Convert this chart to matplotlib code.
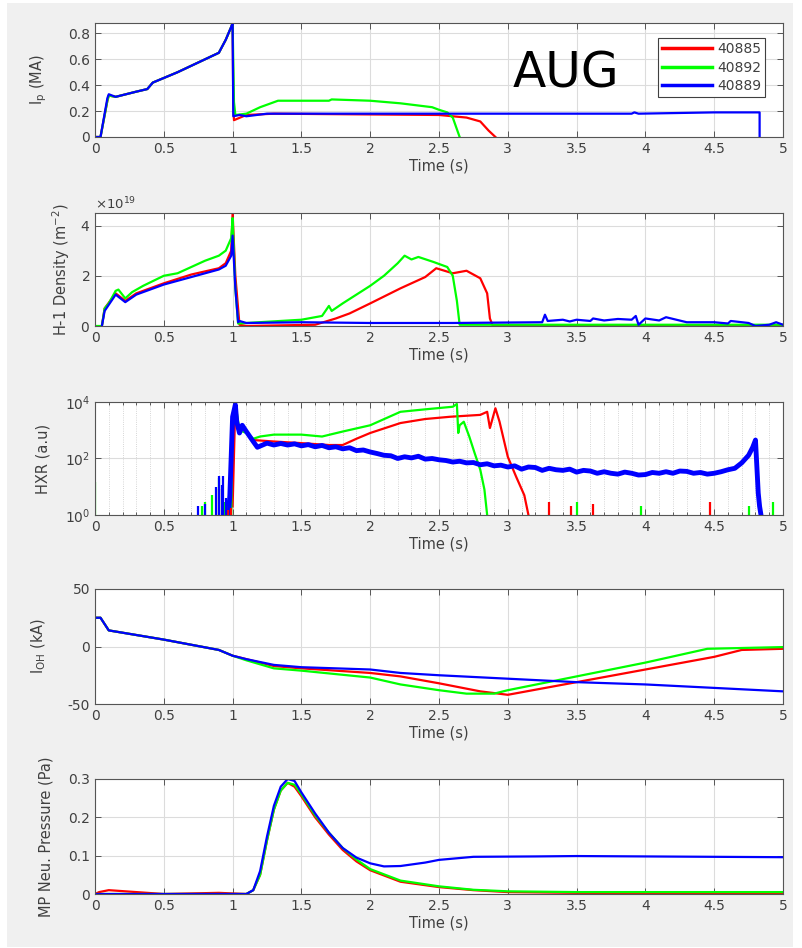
import numpy as np
import matplotlib
matplotlib.use('Agg')
import matplotlib.pyplot as plt
from matplotlib.ticker import FuncFormatter, ScalarFormatter, FixedLocator, LogLocator, NullFormatter
from matplotlib.patches import Rectangle

# shot numbers
shots = ['40885', '40892', '40889']
colors = ['#ff0000', '#00ff00', '#0000ff']

# ---- Ip (MA)
ip_t_40885 = [0, 0.04, 0.09, 0.1, 0.15, 0.3, 0.38, 0.42, 0.6, 0.9, 0.95, 0.99, 1.0, 1.005, 1.01, 1.1, 1.3,
              2.5, 2.7, 2.8, 2.86, 2.91]
ip_v_40885 = [0, 0, 0.28, 0.32, 0.31, 0.35, 0.37, 0.42, 0.5, 0.65, 0.75, 0.85, 0.88, 0.25, 0.13, 0.17, 0.18,
              0.17, 0.15, 0.12, 0.05, 0]
ip_t_40892 = [0, 0.04, 0.09, 0.1, 0.15, 0.3, 0.38, 0.42, 0.6, 0.9, 0.95, 0.99, 1.0, 1.01, 1.02, 1.1, 1.2, 1.33,
              1.7, 1.72, 2.0, 2.22, 2.45, 2.5, 2.56, 2.6, 2.63, 2.65]
ip_v_40892 = [0, 0, 0.28, 0.32, 0.31, 0.35, 0.37, 0.42, 0.5, 0.65, 0.75, 0.85, 0.88, 0.27, 0.17, 0.18, 0.23, 0.28,
              0.28, 0.29, 0.28, 0.26, 0.23, 0.21, 0.19, 0.15, 0.06, 0]
ip_t_40889 = [0, 0.04, 0.09, 0.1, 0.15, 0.3, 0.38, 0.42, 0.6, 0.9, 0.95, 0.99, 1.0, 1.005, 1.05, 1.1, 1.25,
              2.5, 3.9, 3.92, 3.95, 4.5, 4.83, 4.83]
ip_v_40889 = [0, 0, 0.3, 0.33, 0.31, 0.35, 0.37, 0.42, 0.5, 0.65, 0.75, 0.85, 0.88, 0.16, 0.17, 0.16, 0.18,
              0.18, 0.18, 0.19, 0.18, 0.19, 0.19, 0]

# ---- H-1 density (x1e19 m^-2)
ne_t_40885 = [0.05, 0.07, 0.15, 0.22, 0.3, 0.5, 0.7, 0.9, 0.95, 0.99, 1.0, 1.02, 1.05, 1.1, 1.6, 1.75, 1.85,
              2.0, 2.22, 2.4, 2.48, 2.6, 2.7, 2.8, 2.85, 2.87, 2.89, 5.0]
ne_v_40885 = [0, 0.7, 1.3, 1.0, 1.3, 1.7, 2.05, 2.3, 2.5, 3.0, 4.5, 2.0, 0.05, 0, 0.05, 0.3, 0.5,
              0.9, 1.5, 1.95, 2.3, 2.1, 2.2, 1.9, 1.3, 0.3, 0.02, 0]
ne_t_40892 = [0, 0.05, 0.07, 0.1, 0.15, 0.17, 0.22, 0.27, 0.35, 0.5, 0.6, 0.8, 0.9, 0.95, 0.99, 1.0, 1.02, 1.04,
              1.5, 1.65, 1.7, 1.72, 1.8, 2.0, 2.1, 2.2, 2.25, 2.3, 2.35, 2.46, 2.56, 2.6, 2.63, 2.65, 5.0]
ne_v_40892 = [0, 0, 0.7, 0.9, 1.4, 1.45, 1.1, 1.35, 1.6, 2.0, 2.1, 2.6, 2.8, 3.0, 3.5, 4.3, 1.5, 0.1,
              0.25, 0.4, 0.8, 0.6, 0.9, 1.6, 2.0, 2.5, 2.8, 2.65, 2.75, 2.55, 2.35, 2.0, 1.0, 0.05, 0.05]
ne_t_40889 = [0.05, 0.07, 0.15, 0.22, 0.3, 0.5, 0.7, 0.9, 0.95, 0.99, 1.0, 1.02, 1.04, 1.05, 1.1, 1.5, 2.0,
              2.6, 3.25, 3.27, 3.29, 3.4, 3.45, 3.5, 3.6, 3.62, 3.7, 3.8, 3.9, 3.93, 3.95, 4.0, 4.1, 4.15, 4.3,
              4.5, 4.6, 4.62, 4.75, 4.8, 4.9, 4.95, 5.0]
ne_v_40889 = [0, 0.6, 1.25, 0.95, 1.25, 1.65, 1.95, 2.25, 2.4, 2.8, 3.6, 1.5, 0.15, 0.2, 0.12, 0.15, 0.12,
              0.12, 0.15, 0.45, 0.2, 0.25, 0.18, 0.25, 0.2, 0.3, 0.22, 0.28, 0.25, 0.4, 0.05, 0.3, 0.22, 0.35, 0.15,
              0.15, 0.1, 0.2, 0.12, 0.0, 0.05, 0.15, 0.05]

# ---- HXR (a.u.), log scale
hxr_t_40885 = [1.0, 1.02, 1.04, 1.07, 1.1, 1.15, 1.3, 1.5, 1.7, 1.8, 1.9, 2.0, 2.22, 2.4, 2.58, 2.8, 2.85,
               2.87, 2.91, 2.94, 3.0, 3.06, 3.12, 3.15]
hxr_v_40885 = [2, 9000, 1000, 1500, 800, 450, 400, 350, 300, 300, 500, 800, 1800, 2500, 3000, 3500, 4500,
               1200, 6000, 2000, 115, 23, 5, 1]
hxr_t_40892 = [0.99, 1.0, 1.02, 1.05, 1.1, 1.15, 1.2, 1.3, 1.5, 1.65, 1.8, 2.0, 2.22, 2.4, 2.6, 2.63,
               2.64, 2.65, 2.68, 2.72, 2.76, 2.8, 2.83, 2.85]
hxr_v_40892 = [1, 3000, 9000, 1000, 800, 500, 600, 700, 700, 600, 900, 1500, 4500, 5500, 6800, 8500,
               800, 1500, 2000, 600, 150, 40, 8, 1]
hxr_t_40889 = [0.97, 0.98, 1.0, 1.02, 1.03, 1.05, 1.07, 1.1, 1.15, 1.18, 1.25, 1.3, 1.35, 1.4, 1.45, 1.5, 1.55,
               1.6, 1.65, 1.7, 1.75, 1.8, 1.85, 1.9, 1.95, 2.0, 2.05, 2.1, 2.15, 2.2, 2.25, 2.3, 2.35, 2.4,
               2.45, 2.5, 2.55, 2.6, 2.65, 2.7, 2.75, 2.8, 2.85, 2.9, 2.95, 3.0, 3.05, 3.1, 3.15, 3.2, 3.25,
               3.3, 3.35, 3.4, 3.45, 3.5, 3.55, 3.6, 3.65, 3.7, 3.75, 3.8, 3.85, 3.9, 3.95, 4.0, 4.05, 4.1,
               4.15, 4.2, 4.25, 4.3, 4.35, 4.4, 4.45, 4.5, 4.55, 4.6, 4.65, 4.7, 4.75, 4.78, 4.8, 4.82,
               4.83, 4.84]
hxr_v_40889 = [1, 5, 3000, 8000, 2000, 800, 1500, 900, 400, 250, 350, 300, 340, 300, 330, 280, 310,
               260, 290, 240, 260, 220, 240, 190, 200, 170, 150, 130, 125, 100, 115, 105, 120, 95,
               100, 90, 85, 75, 80, 70, 72, 60, 65, 55, 58, 50, 55, 42, 50, 48, 38, 45, 40, 38, 42,
               33, 38, 36, 30, 34, 30, 28, 33, 30, 26, 27, 32, 30, 34, 30, 36, 35, 30, 32, 28, 30,
               34, 40, 45, 70, 130, 250, 450, 6, 2, 1]
# isolated HXR spikes (time, peak)
spk_t_40885 = [0.9, 0.95, 0.97, 0.99, 3.3, 3.46, 3.62, 4.47]
spk_v_40885 = [8, 2, 1.5, 1.8, 3, 2, 2.5, 3]
spk_t_40892 = [0.0, 0.78, 0.8, 0.85, 0.9, 0.94, 3.5, 3.97, 4.75, 4.93]
spk_v_40892 = [15, 2, 3, 5, 20, 3, 3, 2, 2, 3]
spk_t_40889 = [0.75, 0.8, 0.88, 0.9, 0.92, 0.93, 0.95]
spk_v_40889 = [2, 2.5, 10, 25, 12, 25, 4]

# ---- I_OH (kA)
ioh_t_40885 = [0, 0.04, 0.1, 0.5, 0.9, 1.0, 1.1, 1.3, 1.5, 2.0, 2.22, 2.5, 2.8, 3.0, 3.5, 4.0, 4.5, 4.7, 5.0]
ioh_v_40885 = [25, 25, 14, 6, -3, -8, -11, -17, -19, -23, -26, -32, -39, -42, -31, -20, -9, -3, -2]
ioh_t_40892 = [0, 0.04, 0.1, 0.5, 0.9, 1.0, 1.1, 1.3, 1.5, 2.0, 2.22, 2.5, 2.7, 2.9, 3.0, 3.5, 4.0, 4.45, 5.0]
ioh_v_40892 = [25, 25, 14, 6, -3, -8, -12, -19, -21, -27, -33, -38, -41, -41, -38, -26, -14, -2, -0.5]
ioh_t_40889 = [0, 0.04, 0.1, 0.5, 0.9, 1.0, 1.1, 1.3, 1.5, 2.0, 2.22, 2.5, 3.0, 3.5, 4.0, 4.5, 5.0]
ioh_v_40889 = [25, 25, 14, 6, -3, -8, -11, -16, -18, -20, -23, -25, -28, -31, -33, -36, -39]

# ---- MP neutral pressure (Pa)
mp_t_40885 = [0, 0.03, 0.1, 0.5, 0.9, 1.1, 1.15, 1.2, 1.25, 1.3, 1.35, 1.4, 1.45, 1.5, 1.6, 1.7, 1.8, 1.9,
              2.0, 2.22, 2.5, 2.75, 3.0, 3.5, 5.0]
mp_v_40885 = [0, 0.005, 0.01, 0, 0.003, 0, 0.01, 0.05, 0.14, 0.22, 0.27, 0.29, 0.28, 0.255, 0.2, 0.155, 0.115,
              0.085, 0.062, 0.032, 0.018, 0.01, 0.005, 0.003, 0.002]
mp_t_40892 = [0, 0.5, 1.1, 1.15, 1.2, 1.25, 1.3, 1.35, 1.4, 1.45, 1.5, 1.6, 1.7, 1.8, 1.9,
              2.0, 2.22, 2.5, 2.75, 3.0, 3.5, 5.0]
mp_v_40892 = [0, 0, 0, 0.01, 0.05, 0.14, 0.22, 0.27, 0.29, 0.285, 0.26, 0.205, 0.16, 0.12,
              0.09, 0.065, 0.035, 0.02, 0.011, 0.007, 0.005, 0.005]
mp_t_40889 = [0, 1.1, 1.15, 1.2, 1.25, 1.3, 1.35, 1.4, 1.45, 1.5, 1.6, 1.7, 1.8, 1.9, 2.0, 2.1, 2.22,
              2.4, 2.5, 2.75, 3.2, 3.5, 4.0, 5.0]
mp_v_40889 = [0, 0, 0.01, 0.06, 0.15, 0.23, 0.28, 0.3, 0.295, 0.265, 0.21, 0.16, 0.12, 0.095, 0.08, 0.072, 0.073,
              0.082, 0.089, 0.097, 0.098, 0.099, 0.098, 0.096]

txt = '#404040'
plt.rcParams['font.family'] = 'DejaVu Sans'
plt.rcParams['font.size'] = 10
plt.rcParams['axes.unicode_minus'] = False

fig = plt.figure(figsize=(8.02, 9.48), dpi=100, facecolor='white')
fig.patches.append(Rectangle((7 / 802, 1 / 948), 786 / 802, 944 / 948, transform=fig.transFigure,
                             facecolor='#f0f0f0', edgecolor='none', zorder=-10))

# panel pixel extents (top, bottom) and y-label right edge
rows = [(23, 137), (213, 326), (402, 515), (589, 704), (779, 894)]
label_x = [49, 72, 51, 48, 54]
axes = []
for top, bot in rows:
    ax = fig.add_axes([95 / 802, 1 - bot / 948, 688 / 802, (bot - top) / 948])
    axes.append(ax)

def style(ax, lx):
    ax.set_xlim(0, 5)
    ax.set_xticks(np.arange(0, 5.01, 0.5))
    ax.xaxis.set_major_formatter(FuncFormatter(lambda v, p: '%g' % v))
    ax.tick_params(direction='in', top=True, right=True, colors=txt, labelsize=10, length=4, width=0.6)
    ax.grid(True, color='#dcdcdc', lw=0.8)
    ax.set_axisbelow(True)
    for s in ax.spines.values():
        s.set_color('#555555')
        s.set_linewidth(0.8)
    ax.set_xlabel('Time (s)', color=txt, fontsize=10.5, labelpad=2)
    ax.yaxis.set_label_coords((lx - 95) / 688, 0.5)

lw = 1.6

ax = axes[0]
l1, = ax.plot(ip_t_40885, ip_v_40885, color=colors[0], lw=lw, label=shots[0])
l2, = ax.plot(ip_t_40892, ip_v_40892, color=colors[1], lw=lw, label=shots[1])
l3, = ax.plot(ip_t_40889, ip_v_40889, color=colors[2], lw=lw, label=shots[2])
ax.set_ylabel('I$_\\mathregular{p}$ (MA)', color=txt, fontsize=10.5)
style(ax, label_x[0])
ax.set_ylim(0, 0.88)
ax.set_yticks([0, 0.2, 0.4, 0.6, 0.8])
ax.yaxis.set_major_formatter(FuncFormatter(lambda v, p: '%g' % v))
leg = ax.legend(handles=[l1, l2, l3], loc='upper right', bbox_to_anchor=(0.974, 0.868), borderaxespad=0,
                fancybox=False, framealpha=1, edgecolor='#404040', fontsize=10, handlelength=3.6,
                labelspacing=0.32, borderpad=0.3, handletextpad=0.35)
for t in leg.get_texts():
    t.set_color(txt)
leg.get_frame().set_linewidth(0.8)
for h in leg.get_lines():
    h.set_linewidth(2.5)

ax = axes[1]
ax.plot(ne_t_40885, np.array(ne_v_40885) * 1e19, color=colors[0], lw=lw)
ax.plot(ne_t_40892, np.array(ne_v_40892) * 1e19, color=colors[1], lw=lw)
ax.plot(ne_t_40889, np.array(ne_v_40889) * 1e19, color=colors[2], lw=lw)
ax.set_ylabel('H-1 Density (m$^{-2}$)', color=txt, fontsize=10.5)
style(ax, label_x[1])
ax.set_ylim(0, 4.5e19)
ax.set_yticks([0, 2e19, 4e19])
fmt = ScalarFormatter(useMathText=True)
ax.yaxis.set_major_formatter(fmt)
ax.yaxis.get_offset_text().set_color(txt)
ax.yaxis.get_offset_text().set_fontsize(9.5)

ax = axes[2]
ax.set_yscale('log')
ax.plot(hxr_t_40885, hxr_v_40885, color=colors[0], lw=lw)
ax.plot(hxr_t_40892, hxr_v_40892, color=colors[1], lw=lw)
ax.plot(hxr_t_40889, hxr_v_40889, color=colors[2], lw=3.5)
ax.vlines(spk_t_40885, 1, spk_v_40885, color=colors[0], lw=lw)
ax.vlines(spk_t_40892, 1, spk_v_40892, color=colors[1], lw=lw)
ax.vlines(spk_t_40889, 1, spk_v_40889, color=colors[2], lw=lw)
ax.set_ylabel('HXR (a.u)', color=txt, fontsize=10.5)
style(ax, label_x[2])
ax.set_ylim(1, 1e4)
ax.yaxis.set_major_locator(FixedLocator([1, 1e2, 1e4]))
ax.yaxis.set_minor_locator(LogLocator(base=10, subs=np.arange(1, 10)))
ax.yaxis.set_minor_formatter(NullFormatter())
ax.yaxis.set_major_formatter(FuncFormatter(lambda v, p: '$10^{%d}$' % round(np.log10(v))))
ax.grid(True, which='minor', axis='y', color='#c8c8c8', lw=0.6, ls=':')
ax.xaxis.set_minor_locator(FixedLocator(np.arange(0, 5.01, 0.1)))
ax.grid(True, which='minor', axis='x', color='#c8c8c8', lw=0.6, ls=':')
ax.tick_params(which='minor', direction='in', top=True, right=True, length=2, colors=txt)

ax = axes[3]
ax.plot(ioh_t_40885, ioh_v_40885, color=colors[0], lw=lw)
ax.plot(ioh_t_40892, ioh_v_40892, color=colors[1], lw=lw)
ax.plot(ioh_t_40889, ioh_v_40889, color=colors[2], lw=lw)
ax.set_ylabel('I$_\\mathregular{OH}$ (kA)', color=txt, fontsize=10.5)
style(ax, label_x[3])
ax.set_ylim(-50, 50)
ax.set_yticks([-50, 0, 50])

ax = axes[4]
ax.plot(mp_t_40885, mp_v_40885, color=colors[0], lw=lw)
ax.plot(mp_t_40892, mp_v_40892, color=colors[1], lw=lw)
ax.plot(mp_t_40889, mp_v_40889, color=colors[2], lw=lw)
ax.set_ylabel('MP Neu. Pressure (Pa)', color=txt, fontsize=10.5)
style(ax, label_x[4])
ax.set_ylim(0, 0.3)
ax.set_yticks([0, 0.1, 0.2, 0.3])
ax.yaxis.set_major_formatter(FuncFormatter(lambda v, p: '%g' % v))

fig.text(566 / 802, 1 - 74 / 948, 'AUG', fontsize=35, color='black', ha='center', va='center')

fig.savefig('out.png', dpi=100, facecolor=fig.get_facecolor())
